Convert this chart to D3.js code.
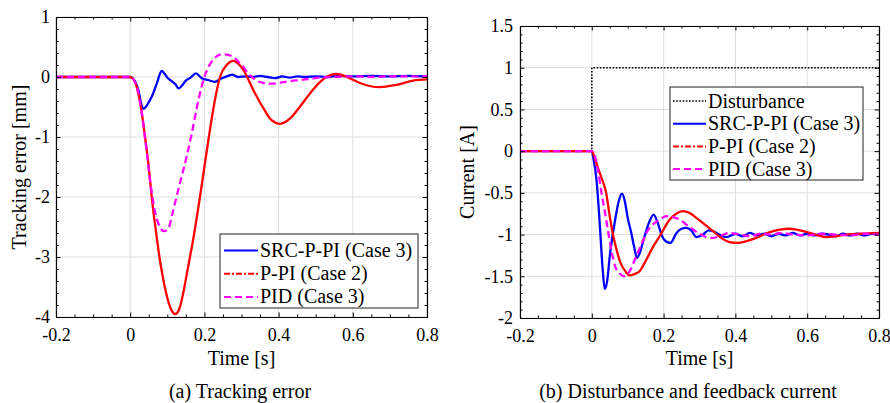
<!DOCTYPE html>
<html><head><meta charset="utf-8">
<script src="https://cdn.jsdelivr.net/npm/d3@7"></script>
<style>
body{margin:0;background:#fff;}
svg{display:block;}
svg text{font-family:"Liberation Serif","Times New Roman",Times,"DejaVu Serif",serif !important;}
</style></head><body>
<svg id="c" width="890" height="403"></svg>
<script>
// ---------- tick labels ----------
const xTickVals = [-0.2, 0, 0.2, 0.4, 0.6, 0.8];
const errTicks = [-4, -3, -2, -1, 0, 1];
const curTicks = [-2, -1.5, -1, -0.5, 0, 0.5, 1, 1.5];

// ---------- legend names ----------
const seriesNames = ["SRC-P-PI (Case 3)", "P-PI (Case 2)", "PID (Case 3)"];
const disturbanceName = "Disturbance";

// ---------- (a) tracking error [mm] ----------
const srcErrT = [-0.2, 0, 0.008, 0.015, 0.022, 0.03, 0.035, 0.042, 0.05, 0.058, 0.071, 0.085, 0.092, 0.1, 0.11, 0.122, 0.13, 0.14, 0.15, 0.163, 0.177, 0.193, 0.21, 0.228, 0.247, 0.264, 0.275, 0.29, 0.31, 0.33, 0.35, 0.37, 0.39, 0.41, 0.43, 0.45, 0.47, 0.5, 0.53, 0.56, 0.6, 0.65, 0.7, 0.75, 0.8];
const srcErrV = [0, 0, -0.03, -0.1, -0.22, -0.45, -0.53, -0.5, -0.42, -0.33, -0.12, 0.1, 0.06, -0.01, -0.06, -0.12, -0.19, -0.14, -0.06, -0.01, 0.06, -0.02, -0.05, -0.08, -0.02, 0.02, 0.04, 0.0, 0.01, 0.0, 0.02, 0.0, -0.02, 0.01, -0.01, 0.01, 0.0, 0.01, 0.0, 0.02, 0.01, 0.02, 0.01, 0.02, 0.01];

const pPiErrT = [-0.2, 0, 0.01, 0.02, 0.03, 0.04, 0.05, 0.058, 0.07, 0.08, 0.09, 0.1, 0.11, 0.121, 0.132, 0.143, 0.155, 0.17, 0.188, 0.2, 0.212, 0.225, 0.242, 0.26, 0.278, 0.292, 0.305, 0.332, 0.359, 0.381, 0.404, 0.431, 0.458, 0.485, 0.512, 0.539, 0.556, 0.584, 0.619, 0.645, 0.673, 0.718, 0.763, 0.8];
const pPiErrV = [0, 0, -0.05, -0.22, -0.55, -1.0, -1.5, -2.0, -2.6, -3.05, -3.4, -3.68, -3.87, -3.95, -3.87, -3.6, -3.2, -2.7, -2.0, -1.5, -1.0, -0.5, 0.0, 0.2, 0.27, 0.22, 0.12, -0.22, -0.52, -0.72, -0.78, -0.69, -0.49, -0.27, -0.08, 0.03, 0.05, 0.0, -0.1, -0.15, -0.17, -0.13, -0.06, -0.04];

const pidErrT = [-0.2, 0, 0.01, 0.02, 0.03, 0.04, 0.053, 0.067, 0.08, 0.091, 0.103, 0.116, 0.134, 0.152, 0.166, 0.184, 0.2, 0.22, 0.247, 0.273, 0.3, 0.323, 0.34, 0.36, 0.38, 0.404, 0.43, 0.458, 0.485, 0.512, 0.55, 0.6, 0.65, 0.7, 0.75, 0.8];
const pidErrV = [0, 0, -0.05, -0.22, -0.55, -1.0, -1.7, -2.25, -2.5, -2.57, -2.52, -2.22, -1.77, -1.33, -0.94, -0.38, 0.0, 0.26, 0.38, 0.35, 0.2, 0.03, -0.06, -0.1, -0.11, -0.095, -0.07, -0.05, -0.03, -0.01, 0.0, 0.01, 0.0, 0.01, 0.01, 0.01];

// ---------- (b) disturbance and feedback current [A] ----------
const distT = [-0.2, 0, 0, 0.8];
const distV = [0, 0, 1, 1];

const srcCurT = [-0.2, 0, 0.005, 0.013, 0.022, 0.03, 0.036, 0.043, 0.05, 0.064, 0.075, 0.084, 0.092, 0.1, 0.11, 0.118, 0.126, 0.135, 0.147, 0.16, 0.172, 0.183, 0.194, 0.206, 0.219, 0.236, 0.25, 0.263, 0.277, 0.291, 0.31, 0.325, 0.338, 0.355, 0.375, 0.4, 0.42, 0.44, 0.46, 0.48, 0.5, 0.52, 0.54, 0.56, 0.58, 0.6, 0.62, 0.64, 0.66, 0.68, 0.7, 0.72, 0.74, 0.76, 0.78, 0.8];
const srcCurV = [0, 0, -0.1, -0.34, -0.86, -1.4, -1.65, -1.55, -1.26, -0.85, -0.6, -0.51, -0.6, -0.8, -0.98, -1.15, -1.28, -1.2, -1.02, -0.85, -0.76, -0.85, -1.0, -1.08, -1.1, -0.98, -0.93, -0.92, -0.95, -1.03, -1.0, -0.95, -0.96, -1.0, -1.03, -0.99, -1.02, -0.98, -1.01, -0.99, -1.02, -0.99, -1.01, -0.98, -1.01, -0.99, -1.01, -0.99, -1.0, -1.02, -0.99, -1.01, -0.99, -1.01, -0.99, -1.0];

const pPiCurT = [-0.2, 0, 0.008, 0.017, 0.027, 0.04, 0.05, 0.059, 0.07, 0.08, 0.095, 0.106, 0.12, 0.133, 0.152, 0.17, 0.189, 0.217, 0.235, 0.254, 0.272, 0.291, 0.315, 0.338, 0.36, 0.384, 0.403, 0.43, 0.458, 0.49, 0.523, 0.55, 0.57, 0.6, 0.63, 0.653, 0.68, 0.709, 0.75, 0.8];
const pPiCurV = [0, 0, -0.08, -0.2, -0.32, -0.5, -0.78, -1.0, -1.2, -1.34, -1.45, -1.49, -1.47, -1.44, -1.3, -1.15, -1.02, -0.82, -0.75, -0.72, -0.74, -0.8, -0.88, -0.96, -1.04, -1.09, -1.1, -1.08, -1.04, -0.98, -0.94, -0.93, -0.94, -0.97, -1.01, -1.03, -1.02, -1.0, -0.99, -0.98];

const pidCurT = [-0.2, 0, 0.008, 0.018, 0.027, 0.036, 0.045, 0.055, 0.065, 0.078, 0.092, 0.105, 0.124, 0.138, 0.152, 0.17, 0.189, 0.208, 0.226, 0.245, 0.263, 0.282, 0.3, 0.319, 0.337, 0.356, 0.384, 0.41, 0.44, 0.47, 0.5, 0.53, 0.56, 0.6, 0.64, 0.68, 0.72, 0.76, 0.8];
const pidCurV = [0, 0, -0.05, -0.25, -0.5, -0.72, -0.95, -1.2, -1.38, -1.47, -1.5, -1.44, -1.26, -1.12, -0.98, -0.88, -0.82, -0.78, -0.79, -0.82, -0.88, -0.94, -0.99, -1.03, -1.04, -1.02, -0.98, -1.0, -1.02, -0.99, -1.0, -0.98, -1.0, -1.01, -0.99, -1.0, -1.01, -0.99, -1.0];

// ---------- styles ----------
const styleSrc = {color: "#0000ff", dash: null, legendDash: null, width: 2.3};
const stylePPi = {color: "#ff0000", dash: null, legendDash: "6,2,2,2", width: 2.3};
const stylePid = {color: "#ff00ff", dash: "7,4", legendDash: "7,4", width: 2.3};
const styleDist = {color: "#000000", dash: "1.6,1.6", legendDash: "1.6,1.6", width: 1.6};

const svg = d3.select("#c");
const FONT = "Liberation Serif, Times New Roman, Times, DejaVu Serif, serif";

function panel(o) {
  const g = svg.append("g");
  const x = d3.scaleLinear().domain([-0.2, 0.8]).range([o.x0, o.x1]);
  const y = d3.scaleLinear().domain(o.yDom).range([o.y1, o.y0]);

  // grid
  g.append("g").selectAll("line").data(xTickVals).join("line")
    .attr("x1", d => x(d)).attr("x2", d => x(d)).attr("y1", o.y0).attr("y2", o.y1)
    .attr("stroke", "#dedede").attr("stroke-width", 1);
  g.append("g").selectAll("line").data(o.yTicks).join("line")
    .attr("y1", d => y(d)).attr("y2", d => y(d)).attr("x1", o.x0).attr("x2", o.x1)
    .attr("stroke", "#dedede").attr("stroke-width", 1);

  // clip
  const cid = "clip" + o.id;
  svg.append("clipPath").attr("id", cid).append("rect")
    .attr("x", o.x0).attr("y", o.y0).attr("width", o.x1 - o.x0).attr("height", o.y1 - o.y0);

  const lines = g.append("g").attr("clip-path", `url(#${cid})`);
  o.series.forEach(s => {
    const line = d3.line().x(d => x(d[0])).y(d => y(d[1]))
      .curve(s.linear ? d3.curveLinear : d3.curveMonotoneX);
    lines.append("path").datum(d3.zip(s.t, s.v))
      .attr("d", line).attr("fill", "none")
      .attr("stroke", s.style.color).attr("stroke-width", s.style.width)
      .attr("stroke-dasharray", s.style.dash)
      .attr("stroke-linejoin", "round");
  });

  // axes
  const minorX = d3.range(-0.2, 0.8001, 0.05).filter(v => !xTickVals.some(t => Math.abs(t - v) < 1e-6));
  const minorY = d3.range(o.yDom[0], o.yDom[1] + 1e-6, o.yMinor).filter(v => !o.yTicks.some(t => Math.abs(t - v) < 1e-6));
  const fmt = d => String(+d.toFixed(2));
  const ax = [];
  ax.push(g.append("g").attr("transform", `translate(0,${o.y1})`)
    .call(d3.axisBottom(x).tickValues(xTickVals).tickSize(-4.5).tickSizeOuter(0).tickPadding(11).tickFormat(fmt)));
  ax.push(g.append("g").attr("transform", `translate(0,${o.y1})`)
    .call(d3.axisBottom(x).tickValues(minorX).tickSize(-2.5).tickSizeOuter(0).tickFormat("")));
  ax.push(g.append("g").attr("transform", `translate(0,${o.y0})`)
    .call(d3.axisTop(x).tickValues(xTickVals).tickSize(-4.5).tickSizeOuter(0).tickFormat("")));
  ax.push(g.append("g").attr("transform", `translate(0,${o.y0})`)
    .call(d3.axisTop(x).tickValues(minorX).tickSize(-2.5).tickSizeOuter(0).tickFormat("")));
  ax.push(g.append("g").attr("transform", `translate(${o.x0},0)`)
    .call(d3.axisLeft(y).tickValues(o.yTicks).tickSize(-4.5).tickSizeOuter(0).tickPadding(o.yPad).tickFormat(fmt)));
  ax.push(g.append("g").attr("transform", `translate(${o.x0},0)`)
    .call(d3.axisLeft(y).tickValues(minorY).tickSize(-2.5).tickSizeOuter(0).tickFormat("")));
  ax.push(g.append("g").attr("transform", `translate(${o.x1},0)`)
    .call(d3.axisRight(y).tickValues(o.yTicks).tickSize(-4.5).tickSizeOuter(0).tickFormat("")));
  ax.push(g.append("g").attr("transform", `translate(${o.x1},0)`)
    .call(d3.axisRight(y).tickValues(minorY).tickSize(-2.5).tickSizeOuter(0).tickFormat("")));
  ax.forEach(a => {
    a.attr("font-family", FONT).attr("font-size", 18);
    a.selectAll(".domain").attr("stroke", "#000").attr("stroke-width", 1.1);
    a.selectAll(".tick line").attr("stroke", "#000").attr("stroke-width", 1);
    a.selectAll(".tick text").attr("fill", "#000").attr("font-family", FONT).attr("font-size", 18);
  });

  // axis labels
  g.append("text").attr("x", (o.x0 + o.x1) / 2).attr("y", 365).attr("font-family", FONT)
    .attr("text-anchor", "middle").attr("font-size", 20).text("Time [s]");
  g.append("text").attr("transform", `translate(${o.yLabX},${(o.y0 + o.y1) / 2}) rotate(-90)`)
    .attr("font-family", FONT).attr("text-anchor", "middle").attr("font-size", 20).text(o.yLabel);
  // caption
  g.append("text").attr("x", o.capX).attr("y", 398).attr("font-family", FONT)
    .attr("text-anchor", "middle").attr("font-size", 20).text(o.caption);

  // legend
  const L = o.legend;
  const lg = g.append("g");
  lg.append("rect").attr("x", L.x).attr("y", L.y).attr("width", L.w).attr("height", L.h)
    .attr("fill", "#fff").attr("stroke", "#222").attr("stroke-width", 1);
  L.items.forEach((it, i) => {
    const by = L.firstBase + i * L.step;
    lg.append("line").attr("x1", L.lineX0).attr("x2", L.lineX1)
      .attr("y1", by - 6.5).attr("y2", by - 6.5)
      .attr("stroke", it.style.color).attr("stroke-width", it.style.width === 1.6 ? 1.6 : 2)
      .attr("stroke-dasharray", it.style.legendDash);
    lg.append("text").attr("x", L.lineX1 + 2).attr("y", by).attr("font-family", FONT)
      .attr("font-size", 20).text(it.name);
  });
}

panel({
  id: "a", x0: 56, x1: 427, y0: 17, y1: 317, yDom: [-4, 1], yTicks: errTicks, yMinor: 0.2, yPad: 6,
  yLabel: "Tracking error [mm]", yLabX: 26, caption: "(a) Tracking error", capX: 240,
  series: [
    {t: srcErrT, v: srcErrV, style: styleSrc},
    {t: pPiErrT, v: pPiErrV, style: stylePPi},
    {t: pidErrT, v: pidErrV, style: stylePid}
  ],
  legend: {x: 220, y: 234, w: 198, h: 74, lineX0: 224, lineX1: 258, firstBase: 257, step: 23.2,
    items: [
      {name: seriesNames[0], style: styleSrc},
      {name: seriesNames[1], style: stylePPi},
      {name: seriesNames[2], style: stylePid}
    ]}
});

panel({
  id: "b", x0: 520, x1: 879, y0: 26, y1: 318, yDom: [-2, 1.5], yTicks: curTicks, yMinor: 0.1, yPad: 7,
  yLabel: "Current [A]", yLabX: 474, caption: "(b) Disturbance and feedback current", capX: 688,
  series: [
    {t: distT, v: distV, style: styleDist, linear: true},
    {t: srcCurT, v: srcCurV, style: styleSrc},
    {t: pPiCurT, v: pPiCurV, style: stylePPi},
    {t: pidCurT, v: pidCurV, style: stylePid}
  ],
  legend: {x: 670, y: 87, w: 193, h: 93, lineX0: 673, lineX1: 706, firstBase: 107.5, step: 22.7,
    items: [
      {name: disturbanceName, style: styleDist},
      {name: seriesNames[0], style: styleSrc},
      {name: seriesNames[1], style: stylePPi},
      {name: seriesNames[2], style: stylePid}
    ]}
});
</script>
</body></html>
